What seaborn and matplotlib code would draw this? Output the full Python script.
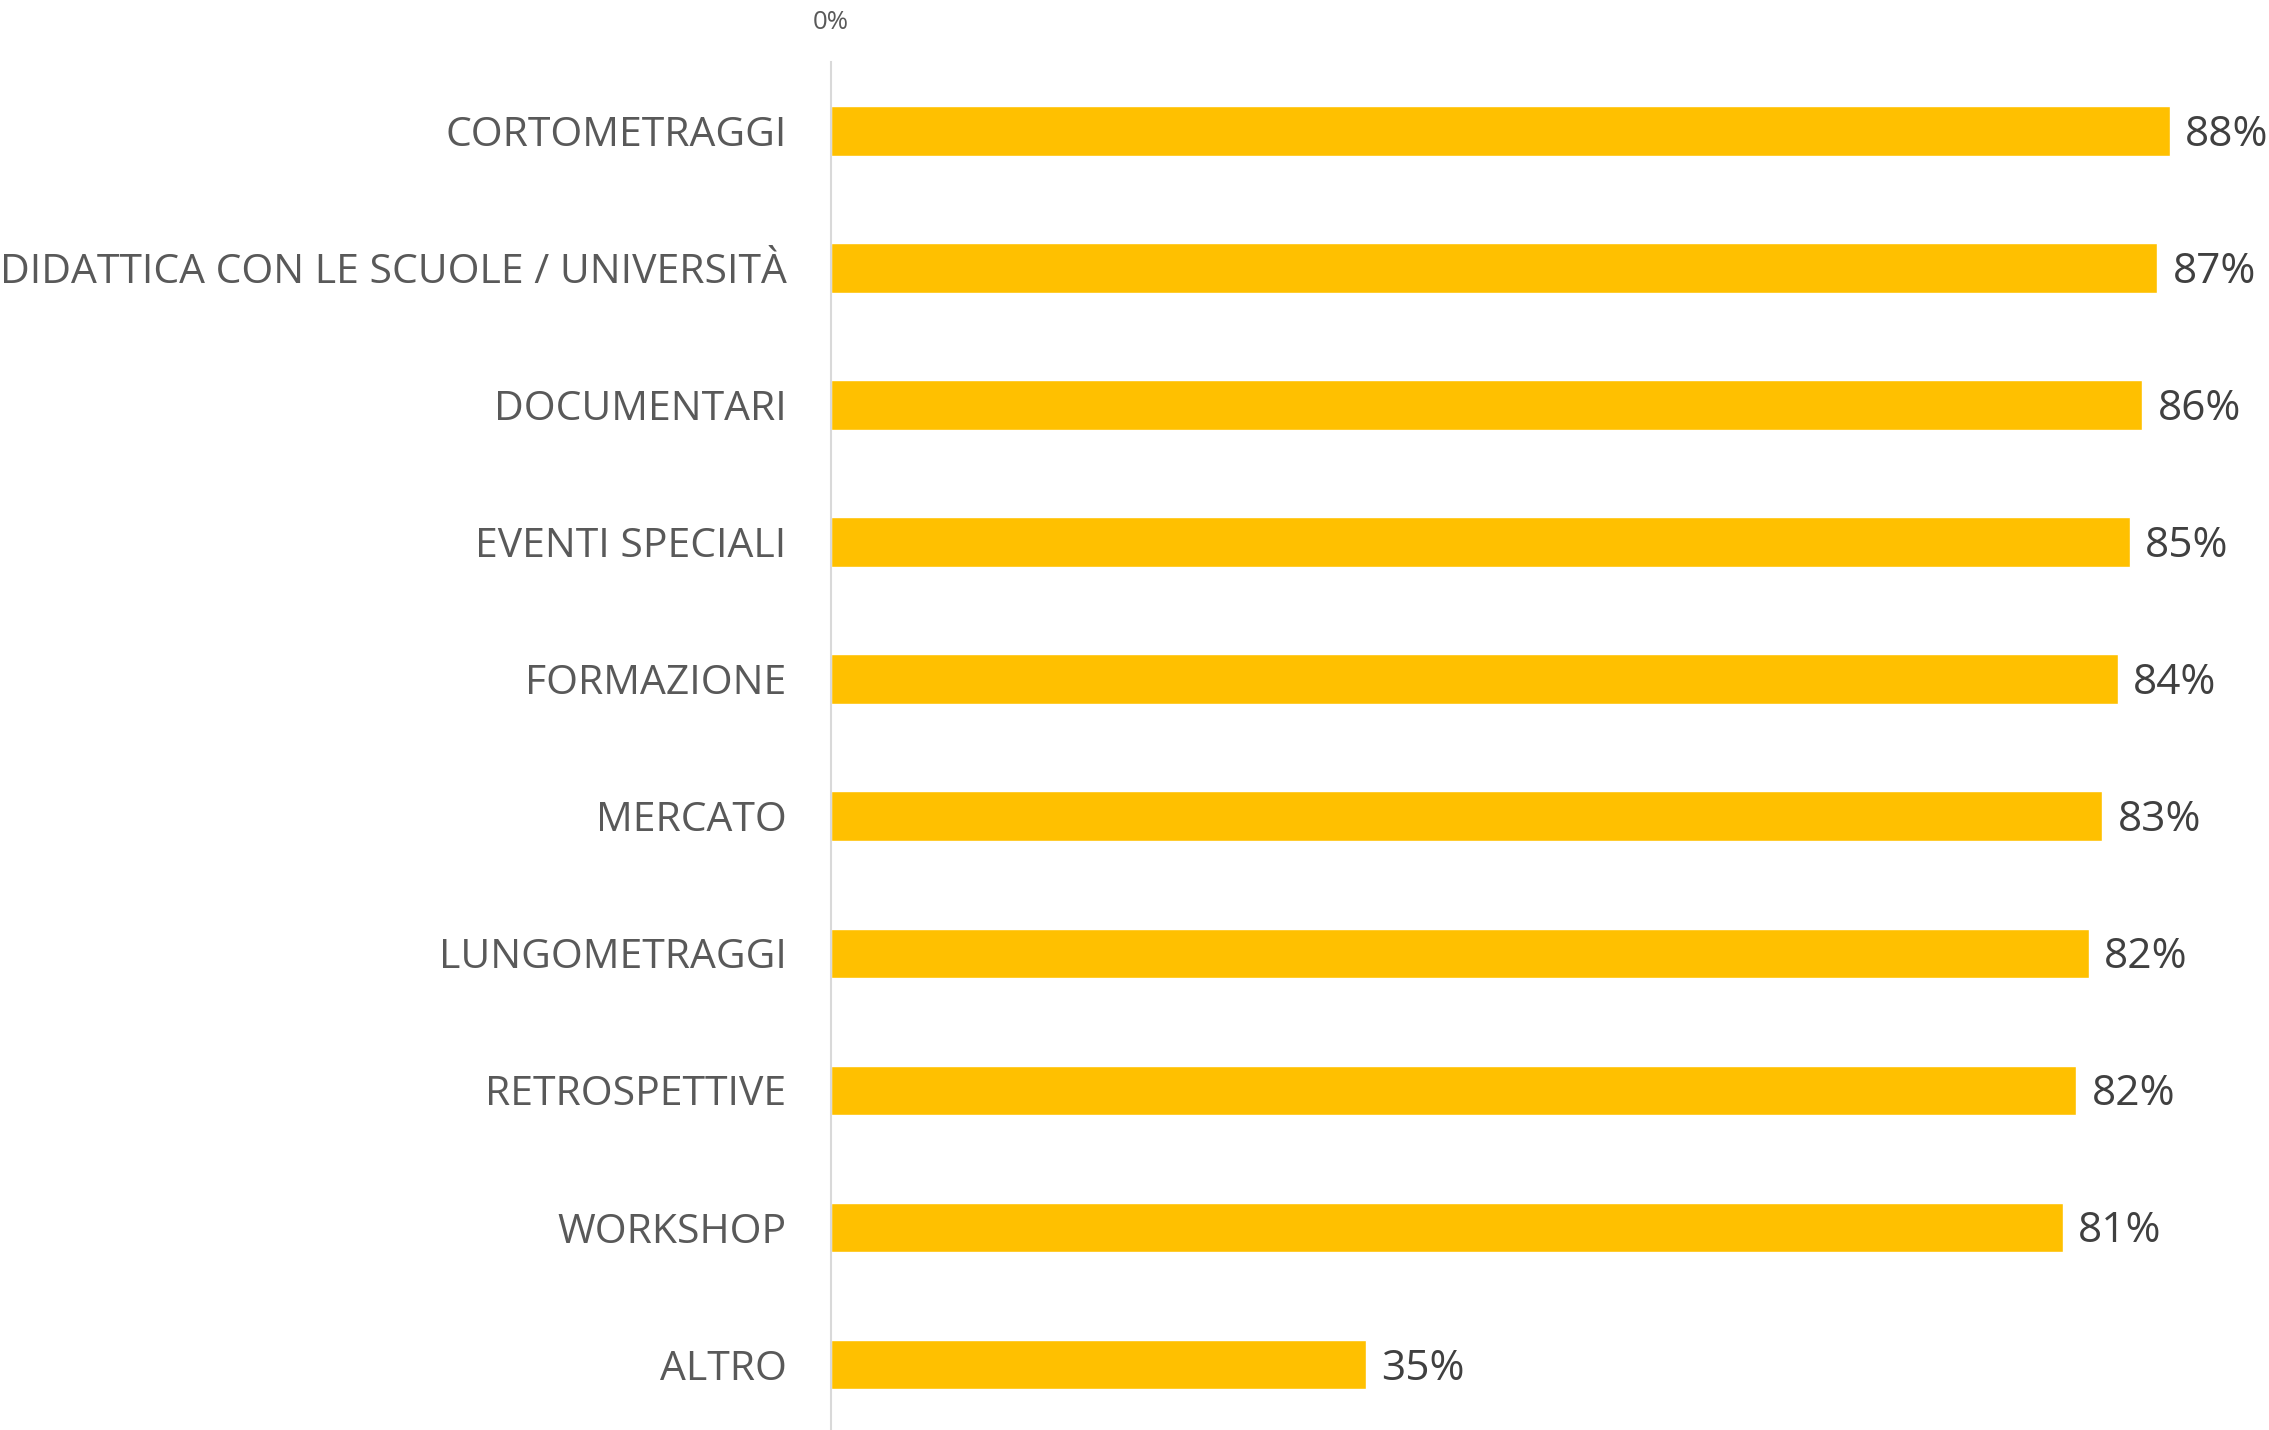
import matplotlib
matplotlib.use("Agg")
import matplotlib.pyplot as plt
import seaborn as sns

categories = [
    "CORTOMETRAGGI",
    "DIDATTICA CON LE SCUOLE / UNIVERSITÀ",
    "DOCUMENTARI",
    "EVENTI SPECIALI",
    "FORMAZIONE",
    "MERCATO",
    "LUNGOMETRAGGI",
    "RETROSPETTIVE",
    "WORKSHOP",
    "ALTRO",
]
values = [87.6, 86.8, 85.8, 85.0, 84.2, 83.2, 82.3, 81.5, 80.6, 35.0]

sns.set_style("white")
plt.rcParams["font.family"] = ["Open Sans", "DejaVu Sans"]

fig = plt.figure(figsize=(22.69, 14.30), dpi=100)
ax = fig.add_axes([0.3662, -0.002, 0.6338, 0.9584])

sns.barplot(x=values, y=categories, orient="h", color="#FFC000",
            saturation=1, width=0.36, ax=ax)

# data labels, a touch below the bar centre like Excel
labs = ax.bar_label(ax.containers[0], labels=[f"{v:.0f}%" for v in values],
                    padding=11, fontsize=30.5, color="#404040")
for t in labs:
    t.xyann = (11, -3)

ax.set_xlim(0, 94.1)
ax.xaxis.tick_top()
ax.set_xticks([0])
ax.set_xticklabels(["0%"])
ax.tick_params(axis="x", length=0, pad=20, labelsize=18.5, labelcolor="#595959")
ax.tick_params(axis="y", length=0, pad=32, labelsize=29.4, labelcolor="#595959")
ax.set_xlabel("")
ax.set_ylabel("")

for side in ["top", "right", "bottom"]:
    ax.spines[side].set_visible(False)
ax.spines["left"].set_color("#d9d9d9")
ax.spines["left"].set_linewidth(1.5)

fig.savefig("out.png", dpi=100)
